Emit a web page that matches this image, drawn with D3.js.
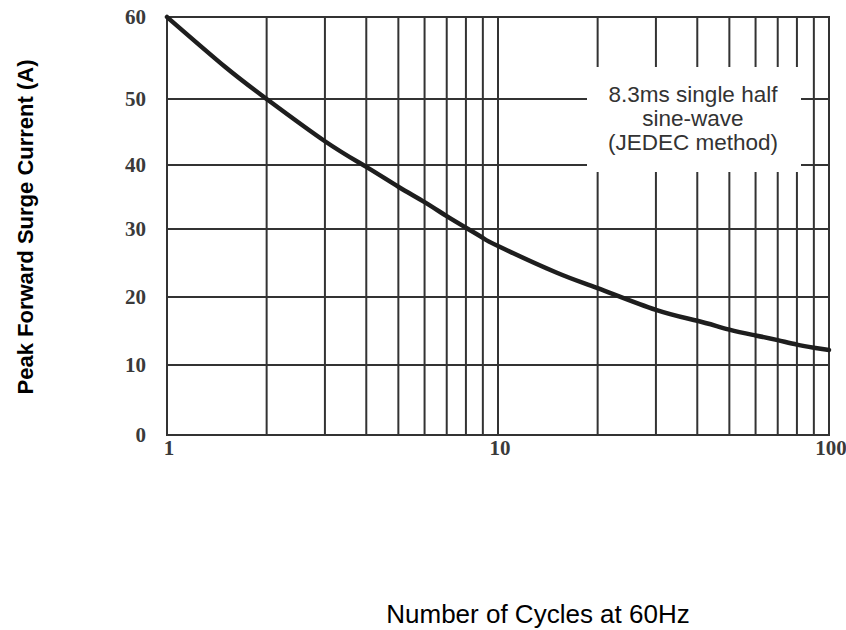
<!DOCTYPE html>
<html><head><meta charset="utf-8">
<script src="https://cdn.jsdelivr.net/npm/d3@7"></script>
<style>body{margin:0;background:#fff}svg{display:block}</style>
</head><body>
<script>
// ---- data ----
const cycles  = [1, 1.5, 2, 3, 4, 5, 6, 7, 8, 9, 10, 15, 20, 30, 40, 50, 60, 70, 80, 90, 100];
const current = [60, 53.9, 50, 43.6, 39.7, 36.6, 34.2, 32.0, 30.2, 28.7, 27.5, 23.6, 21.3, 18.1, 16.5, 15.2, 14.35, 13.65, 13.0, 12.55, 12.2];
const yTicks = [0, 10, 20, 30, 40, 50, 60];
const xTickLabels = [1, 10, 100];
const xGrid = [2,3,4,5,6,7,8,9,10,20,30,40,50,60,70,80,90];
const noteLines = ["8.3ms single half", "sine-wave", "(JEDEC method)"];
const yTitle = "Peak Forward Surge Current (A)";
const xTitle = "Number of Cycles at 60Hz";

const W = 846, H = 630;
const svg = d3.select("body").append("svg").attr("width", W).attr("height", H);

const x = d3.scaleLog().domain([1, 100]).range([167, 829]);
// the scanned grid is not evenly spaced; follow the measured gridline positions
const y = d3.scaleLinear().domain(yTicks).range([435, 365, 297, 229, 165, 99, 17]);

const gridCol = "#333";
const g = svg.append("g");

// vertical gridlines
g.selectAll("line.vx").data(xGrid).join("line")
  .attr("x1", d => x(d)).attr("x2", d => x(d))
  .attr("y1", y(60)).attr("y2", y(0))
  .attr("stroke", gridCol).attr("stroke-width", 2);
// horizontal gridlines
g.selectAll("line.hy").data(yTicks.slice(1, -1)).join("line")
  .attr("x1", x(1)).attr("x2", x(100))
  .attr("y1", d => y(d)).attr("y2", d => y(d))
  .attr("stroke", gridCol).attr("stroke-width", 2);

// note box (white) covering the grid
g.append("rect").attr("x", 587).attr("y", 67).attr("width", 214).attr("height", 105).attr("fill", "#fff");

// frame
g.append("rect").attr("x", x(1)).attr("y", y(60)).attr("width", x(100) - x(1)).attr("height", y(0) - y(60))
  .attr("fill", "none").attr("stroke", gridCol).attr("stroke-width", 2);

// curve
const line = d3.line().x((d, i) => x(cycles[i])).y(d => y(d)).curve(d3.curveNatural);
g.append("path").datum(current).attr("d", line)
  .attr("fill", "none").attr("stroke", "#1e1e1e").attr("stroke-width", 4.5).attr("stroke-linecap", "round");

// y tick labels
g.selectAll("text.yt").data(yTicks).join("text")
  .attr("x", 146).attr("y", d => y(d) + 7)
  .attr("text-anchor", "end")
  .style("font-family", "'Liberation Serif', 'Times New Roman', serif")
  .style("font-size", "21px").style("font-weight", "bold").attr("fill", "#3a3a3a")
  .text(d => d);

// x tick labels
g.selectAll("text.xt").data(xTickLabels).join("text")
  .attr("x", d => x(d) + 2).attr("y", 455)
  .attr("text-anchor", "middle")
  .style("font-family", "'Liberation Serif', 'Times New Roman', serif")
  .style("font-size", "21px").style("font-weight", "bold").attr("fill", "#3a3a3a")
  .text(d => d);

// note text
g.selectAll("text.note").data(noteLines).join("text")
  .attr("x", 693).attr("y", (d, i) => 101.5 + i * 24)
  .attr("text-anchor", "middle")
  .style("font-family", "'Liberation Sans', Arial, sans-serif")
  .style("font-size", "22.5px").attr("fill", "#333")
  .text(d => d);

// axis titles
svg.append("text")
  .attr("transform", "translate(33,227) rotate(-90)")
  .attr("text-anchor", "middle")
  .style("font-family", "'Liberation Sans', Arial, sans-serif")
  .style("font-size", "22px").style("font-weight", "bold").attr("fill", "#000")
  .text(yTitle);

svg.append("text")
  .attr("x", 538).attr("y", 623)
  .attr("text-anchor", "middle")
  .style("font-family", "'Liberation Sans', Arial, sans-serif")
  .style("font-size", "26px").attr("fill", "#000")
  .text(xTitle);
</script>
</body></html>
